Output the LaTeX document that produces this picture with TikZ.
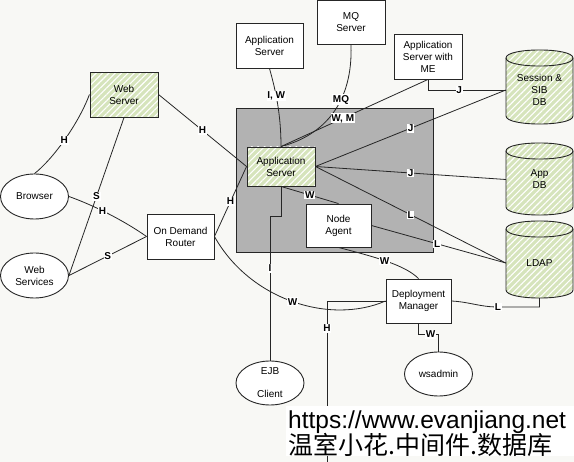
\documentclass[tikz,border=0pt]{standalone}
\usepackage{fontspec}
\setmainfont{Liberation Sans}
\newfontfamily\cjkfont{Noto Sans CJK SC}
\usetikzlibrary{shapes.geometric,patterns.meta}
\definecolor{bgc}{RGB}{248,248,245}
\definecolor{cellgray}{RGB}{178,178,178}
\definecolor{hgreen}{RGB}{214,228,188}
\tikzset{
  box/.style={draw=black!85, line width=0.9pt, fill=white, align=center,
    font=\fontsize{10}{12}\selectfont, inner sep=1pt},
  greenbox/.style={box, preaction={fill=hgreen},
    pattern={Lines[angle=45,distance=4.5pt,line width=1.1pt]}, pattern color=white},
  oval/.style={ellipse, draw=black!85, line width=0.9pt, fill=white, align=center,
    font=\fontsize{10}{12}\selectfont, inner sep=0pt, minimum width=68pt, minimum height=45pt},
  dbtext/.style={align=center, font=\fontsize{10}{12}\selectfont, inner sep=0pt, minimum width=67pt},
  conn/.style={draw=black!85, line width=0.8pt},
  lbl/.style={fill=white, font=\bfseries\fontsize{10}{10}\selectfont, inner sep=0.8pt},
  cylfill/.style={preaction={fill=hgreen}, pattern={Lines[angle=45,distance=4.5pt,line width=1.1pt]}, pattern color=white},
}
\newcommand{\dbcyl}[4]{% left, top, right, bottom
  \path[cylfill] (#1,#2) -- (#1,#4) .. controls (#1,#4+10.7) and (#3,#4+10.7) .. (#3,#4)
    -- (#3,#2) .. controls (#3,#2-10.7) and (#1,#2-10.7) .. cycle;
  \draw[draw=black!85, line width=0.9pt] (#1,#2) -- (#1,#4) .. controls (#1,#4+10.7) and (#3,#4+10.7) .. (#3,#4)
    -- (#3,#2) .. controls (#3,#2-10.7) and (#1,#2-10.7) .. cycle;
  \draw[draw=black!85, line width=0.9pt] (#1,#2) .. controls (#1,#2+10.7) and (#3,#2+10.7) .. (#3,#2);
}
\begin{document}
\begin{tikzpicture}[x=1pt,y=-1pt]
\useasboundingbox (0,0) rectangle (574,462);
\fill[bgc] (0,0) rectangle (574,462);

% cell (gray box)
\node[draw=black!85, line width=0.9pt, fill=cellgray, minimum width=197pt, minimum height=144pt, inner sep=0pt] (cell) at (334.5,180) {};

% boxes
\node[greenbox, minimum width=68pt, minimum height=45pt] (ws) at (124,94.5) {Web\\Server};
\node[box, minimum width=67pt, minimum height=45pt] (as1) at (269.5,45.5) {Application\\Server};
\node[box, minimum width=68pt, minimum height=44pt] (mq) at (351,22.5) {MQ\\Server};
\node[box, minimum width=68pt, minimum height=45pt] (asme) at (428,56.5) {Application\\Server with\\ME};
\node[greenbox, minimum width=68pt, minimum height=39pt] (as) at (281,166.5) {Application\\Server};
\node[box, minimum width=65pt, minimum height=43pt] (na) at (338.5,225.5) {Node\\Agent};
\node[box, minimum width=67pt, minimum height=45pt] (odr) at (180.5,236.5) {On Demand\\Router};
\node[box, minimum width=65pt, minimum height=44pt] (dm) at (418.5,301) {Deployment\\Manager};

% ellipses
\node[oval] (br) at (34.5,196.5) {Browser};
\node[oval] (wsv) at (34.5,275.5) {Web\\Services};
\node[oval, minimum height=44pt] (ejb) at (270,383) {EJB\\[11pt]Client};
\node[oval, minimum height=44pt] (wsa) at (438.5,374) {wsadmin};

% databases
\dbcyl{506}{58}{573}{116}
\dbcyl{506}{151}{573}{207}
\dbcyl{506}{229}{573}{290}
\node[dbtext, minimum height=50pt] (sdb) at (539.5,90) {Session \&\\SIB\\DB};
\node[dbtext, minimum height=50pt] (adb) at (539.5,179.5) {App\\DB};
\node[dbtext, minimum height=70pt] (ldap) at (539.5,263) {LDAP};

% connectors
\draw[conn] (br.north) .. controls (52,160) and (78,125) .. (ws.west) node[lbl,pos=0.5]{H};
\draw[conn] (ws.south) -- (wsv.east) node[lbl,pos=0.5]{S};
\draw[conn] (br.east) .. controls (90,204) and (120,218) .. (odr.west) node[lbl,pos=0.46]{H};
\draw[conn] (wsv.east) -- (odr.west) node[lbl,pos=0.5]{S};
\draw[conn] (ws.east) -- (as.west) node[lbl,pos=0.5]{H};
\draw[conn] (odr.east) -- (as.west) node[lbl,pos=0.5]{H};
\draw[conn] (as1.south) .. controls (274,85) and (281,110) .. (as.north) node[lbl,pos=0.45]{I, W};
\draw[conn] (mq.south) .. controls (353,102) and (325,135) .. (as.north) node[lbl,pos=0.38]{MQ};
\draw[conn] (asme.south) -- (as.north) node[lbl,pos=0.58]{W, M};
\draw[conn] (asme.south) |- (sdb.west) node[lbl,pos=0.7]{J};
\draw[conn] (as.east) -- (sdb.west) node[lbl,pos=0.5]{J};
\draw[conn] (as.east) -- (adb.west) node[lbl,pos=0.5]{J};
\draw[conn] (as.east) -- (ldap.west) node[lbl,pos=0.5]{L};
\draw[conn] (na.east) -- (ldap.west) node[lbl,pos=0.49]{L};
\draw[conn] (as.south) -- (na.north) node[lbl,pos=0.5]{W};
\draw[conn] (as.south) -- ++(0,30) -| (ejb.north) node[lbl,pos=0.68]{I};
\draw[conn] (na.south) .. controls (375,257) and (405,265) .. (dm.north) node[lbl,pos=0.47]{W};
\draw[conn] (odr.east) .. controls (250,300) and (330,325) .. (dm.west) node[lbl,pos=0.5]{W};
\coordinate (hb) at (327,462);
\draw[conn] (dm.west) -| (hb) node[lbl,pos=0.585]{H};
\draw[conn] (dm.east) .. controls (470,302) and (480,307) .. (498,307) node[lbl]{L} -| (ldap.south);
\draw[conn] (dm.south) -- ++(0,11) -| (wsa.north) node[lbl,pos=0.3]{W};

% watermark
\fill[white] (286,406) rectangle (574,456);
\node[anchor=base west, font=\fontsize{24.5}{24.5}\selectfont, inner sep=0pt] (wm1) at (288,429) {https://www.evanjiang.net};
\node[anchor=base west, font=\cjkfont\fontsize{25}{25}\selectfont, inner sep=0pt] (wm2) at (288,455) {温室小花.中间件.数据库};
\end{tikzpicture}
\end{document}
